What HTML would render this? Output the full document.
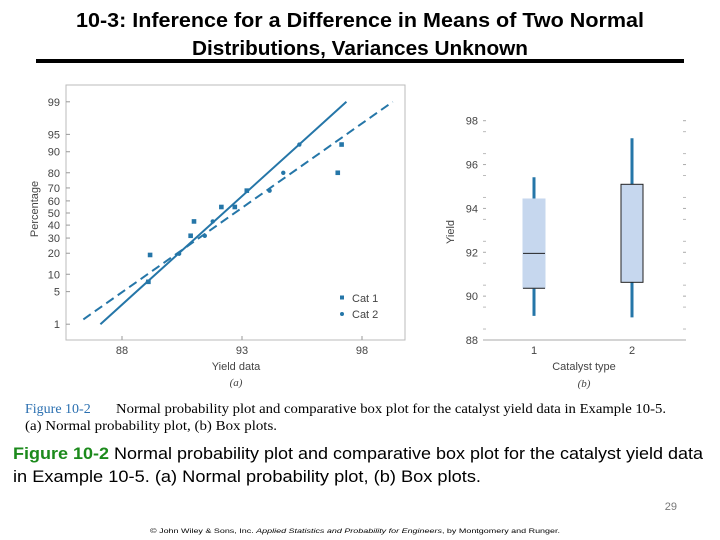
<!DOCTYPE html>
<html><head><meta charset="utf-8"><style>
body{margin:0;background:#fff;}
svg{display:block;font-family:"Liberation Sans",sans-serif;}
</style></head><body>
<svg id="page" width="720" height="540" viewBox="0 0 720 540">
  <text x="360" y="27" text-anchor="middle" font-size="20" font-weight="bold" textLength="568" lengthAdjust="spacingAndGlyphs">10-3:  Inference for a Difference in Means of Two Normal</text>
  <text x="360" y="55" text-anchor="middle" font-size="20" font-weight="bold" textLength="336" lengthAdjust="spacingAndGlyphs">Distributions, Variances Unknown</text>
  <rect x="36" y="59" width="648" height="4" fill="#000"/>

  <g id="left"></g>
  <g id="right"></g>

  <text x="25" y="413" font-family="Liberation Serif" font-size="14" fill="#2a6fb0">Figure 10-2</text>
  <text x="116" y="413" font-family="Liberation Serif" font-size="14" textLength="550" lengthAdjust="spacingAndGlyphs">Normal probability plot and comparative box plot for the catalyst yield data in Example 10-5.</text>
  <text x="25" y="430" font-family="Liberation Serif" font-size="14" textLength="252" lengthAdjust="spacingAndGlyphs">(a) Normal probability plot, (b) Box plots.</text>

  <text x="13" y="459" font-size="17" textLength="690" lengthAdjust="spacingAndGlyphs"><tspan font-weight="bold" fill="#1c8a1c">Figure 10-2</tspan> Normal probability plot and comparative box plot for the catalyst yield data</text>
  <text x="13" y="482" font-size="17" textLength="468" lengthAdjust="spacingAndGlyphs">in Example 10-5.  (a) Normal probability plot, (b) Box plots.</text>
  <text x="677" y="510" font-size="11" fill="#777" text-anchor="end">29</text>
  <text x="355" y="533" font-size="6.5" text-anchor="middle" textLength="410" lengthAdjust="spacingAndGlyphs">© John Wiley &amp; Sons, Inc.  <tspan font-style="italic">Applied Statistics and Probability for Engineers</tspan>, by Montgomery and Runger.</text>
</svg>
<script>
const NS="http://www.w3.org/2000/svg";
function mk(parent,tag,attrs,txt){const e=document.createElementNS(NS,tag);for(const k in attrs)e.setAttribute(k,attrs[k]);if(txt!==undefined)e.textContent=txt;parent.appendChild(e);return e;}
const BLUE="#2576a8";

// ---- Normal probability plot data ----
const yTicksPct=[1,5,10,20,30,40,50,60,70,80,90,95,99];
const xTicks=[88,93,98];
const cat1Yield=[89.10,89.17,90.86,91.00,92.14,92.70,93.20,96.99,97.15];
const cat1Pct=[7.5,19,31.7,43,55,55,68,80,92.4];
const cat2Yield=[89.08,90.38,91.45,91.78,94.15,94.72,95.39];
const cat2Pct=[7.5,19.7,31.7,43,68,80,92.4];
const fitSolidYield=[87.1,97.35];
const fitSolidPct=[1,99];
const fitDashYield=[86.39,99.28];
const fitDashPct=[1.3,99];

// ---- Box plot data ----
const boxCats=["1","2"];
const boxMin=[89.1,89.03];
const boxQ1=[90.36,90.63];
const boxMed=[91.95,null];
const boxQ3=[94.43,95.1];
const boxMax=[95.42,97.2];
const boxYTicks=[88,90,92,94,96,98];

function invNorm(p){ // Acklam
  const a=[-39.69683028665376,220.9460984245205,-275.9285104469687,138.3577518672690,-30.66479806614716,2.506628277459239];
  const b=[-54.47609879822406,161.5858368580409,-155.6989798598866,66.80131188771972,-13.28068155288572];
  const c=[-0.007784894002430293,-0.3223964580411365,-2.400758277161838,-2.549732539343734,4.374664141464968,2.938163982698783];
  const d=[0.007784695709041462,0.3224671290700398,2.445134137142996,3.754408661907416];
  let q,r;
  if(p<0.02425){q=Math.sqrt(-2*Math.log(p));return (((((c[0]*q+c[1])*q+c[2])*q+c[3])*q+c[4])*q+c[5])/((((d[0]*q+d[1])*q+d[2])*q+d[3])*q+1);}
  if(p>1-0.02425){q=Math.sqrt(-2*Math.log(1-p));return -(((((c[0]*q+c[1])*q+c[2])*q+c[3])*q+c[4])*q+c[5])/((((d[0]*q+d[1])*q+d[2])*q+d[3])*q+1);}
  q=p-0.5;r=q*q;return (((((a[0]*r+a[1])*r+a[2])*r+a[3])*r+a[4])*r+a[5])*q/(((((b[0]*r+b[1])*r+b[2])*r+b[3])*r+b[4])*r+1);
}
const xL=v=>122+(v-88)*24;
const yL=p=>213-invNorm(p/100)*47.8;

const L=document.getElementById('left');
const frame=mk(L,'rect',{x:66,y:85,width:339,height:255,fill:'none',stroke:'#bbb','stroke-width':1});


yTicksPct.forEach(p=>{
  const t=mk(L,'line',{x1:66,x2:70,y1:yL(p),y2:yL(p),stroke:'#999'});
  
  
  const lb=mk(L,'text',{x:60,y:yL(p)+4,'text-anchor':'end','font-size':11,fill:'#444'},String(p));
  
  
});
xTicks.forEach(v=>{
  const t=mk(L,'line',{x1:xL(v),x2:xL(v),y1:336,y2:340,stroke:'#999'});
  
  
  const lb=mk(L,'text',{x:xL(v),y:354,'text-anchor':'middle','font-size':11,fill:'#444'},String(v));
  
  
});
let e=mk(L,'text',{x:236,y:370,'text-anchor':'middle','font-size':11,fill:'#444'},'Yield data');


e=mk(L,'text',{x:236,y:386,'text-anchor':'middle','font-size':11,fill:'#444','font-family':'Liberation Serif','font-style':'italic'},'(a)');


e=mk(L,'text',{x:38,y:209,'text-anchor':'middle','font-size':11,fill:'#444',transform:'rotate(-90 38 209)'},'Percentage');


e=mk(L,'line',{x1:xL(fitSolidYield[0]),y1:yL(fitSolidPct[0]),x2:xL(fitSolidYield[1]),y2:yL(fitSolidPct[1]),stroke:BLUE,'stroke-width':2});


e=mk(L,'line',{x1:xL(fitDashYield[0]),y1:yL(fitDashPct[0]),x2:xL(fitDashYield[1]),y2:yL(fitDashPct[1]),stroke:BLUE,'stroke-width':2,'stroke-dasharray':'9,5'});


cat1Yield.forEach((v,i)=>{
  const m=mk(L,'rect',{x:xL(v)-2.3,y:yL(cat1Pct[i])-2.3,width:4.6,height:4.6,fill:BLUE});
  
  
});
cat2Yield.forEach((v,i)=>{
  const m=mk(L,'circle',{cx:xL(v),cy:yL(cat2Pct[i]),r:2.2,fill:BLUE});
  
  
});
e=mk(L,'rect',{x:340,y:295.5,width:4,height:4,fill:BLUE});


e=mk(L,'text',{x:352,y:302,'font-size':11,fill:'#444'},'Cat 1');


e=mk(L,'circle',{cx:342,cy:314,r:2,fill:BLUE});


e=mk(L,'text',{x:352,y:318,'font-size':11,fill:'#444'},'Cat 2');



// ---- Box plot ----
const R=document.getElementById('right');
const yR=v=>340-(v-88)*21.93;
const xR=i=>534+i*98;
e=mk(R,'line',{x1:483,x2:685,y1:340,y2:340,stroke:'#aaa'});


for(let v=88.5;v<98;v+=1){
  [483,683].forEach(x=>{
    const t=mk(R,'line',{x1:x,x2:x+3,y1:yR(v),y2:yR(v),stroke:'#bbb'});
    
    
  });
}
boxYTicks.forEach(v=>{
  [483,683].forEach(x=>{
    const t=mk(R,'line',{x1:x,x2:x+3,y1:yR(v),y2:yR(v),stroke:'#aaa'});
    
    
  });
  const lb=mk(R,'text',{x:478,y:yR(v)+4,'text-anchor':'end','font-size':11,fill:'#444'},String(v));
  
  
});
e=mk(R,'text',{x:454,y:232,'text-anchor':'middle','font-size':11,fill:'#444',transform:'rotate(-90 454 232)'},'Yield');


boxCats.forEach((c,i)=>{
  const cx=xR(i);
  let w=mk(R,'line',{x1:cx,x2:cx,y1:yR(boxMin[i]),y2:yR(boxMax[i]),stroke:BLUE,'stroke-width':3});
  
  
  const strokeC=i===0?'#c6d7ee':'#222';
  let b=mk(R,'rect',{x:cx-11,y:yR(boxQ3[i]),width:22,height:yR(boxQ1[i])-yR(boxQ3[i]),fill:'#c6d7ee',stroke:strokeC,'stroke-width':1});
  
  
  if(i===0){
    mk(R,'line',{x1:cx-11,x2:cx+11,y1:yR(boxQ1[i]),y2:yR(boxQ1[i]),stroke:'#222'});
  }
  if(boxMed[i]!==null){
    let m=mk(R,'line',{x1:cx-11,x2:cx+11,y1:yR(boxMed[i]),y2:yR(boxMed[i]),stroke:'#222'});
    
    
  }
  let lb=mk(R,'text',{x:cx,y:354,'text-anchor':'middle','font-size':11,fill:'#444'},c);
  
  
});
e=mk(R,'text',{x:584,y:370,'text-anchor':'middle','font-size':11,fill:'#444'},'Catalyst type');


e=mk(R,'text',{x:584,y:387,'text-anchor':'middle','font-size':11,fill:'#444','font-family':'Liberation Serif','font-style':'italic'},'(b)');


</script>
</body></html>
